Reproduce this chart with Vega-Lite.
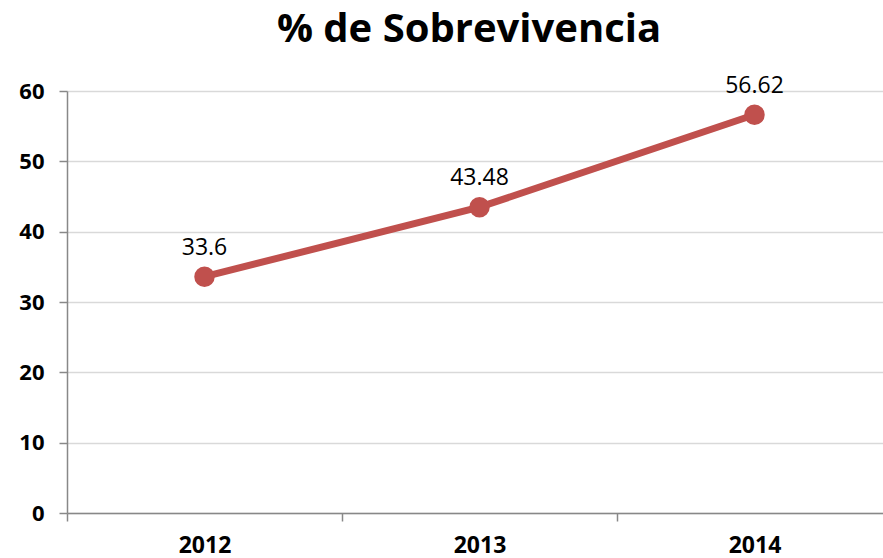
{
  "$schema": "https://vega.github.io/schema/vega-lite/v6.json",
  "width": 816,
  "height": 422,
  "autosize": {"type": "none"},
  "padding": {"left": 67, "top": 91, "right": 0, "bottom": 45},
  "background": "white",
  "title": {
    "text": "% de Sobrevivencia",
    "font": "Open Sans",
    "fontSize": 40,
    "fontWeight": "bold",
    "color": "#000000",
    "anchor": "middle",
    "dx": -6,
    "offset": 25
  },
  "config": {
    "view": {"stroke": null},
    "axis": {"labelFont": "Open Sans", "labelFontWeight": "bold", "labelFontSize": 22, "labelColor": "#000000"}
  },
  "data": {
    "values": [
      {"year": "2012", "value": 33.6},
      {"year": "2013", "value": 43.48},
      {"year": "2014", "value": 56.62}
    ]
  },
  "encoding": {
    "x": {
      "field": "year",
      "type": "nominal",
      "scale": {"range": [0, 825], "paddingInner": 0, "paddingOuter": 0},
      "axis": {
        "title": null,
        "labelAngle": 0,
        "tickBand": "extent",
        "labelFontSize": 23,
        "labelPadding": 13,
        "tickSize": 8,
        "tickColor": "#888888",
        "domainColor": "#888888",
        "domainWidth": 1.5,
        "tickWidth": 1.5,
        "grid": false
      }
    },
    "y": {
      "field": "value",
      "type": "quantitative",
      "scale": {"domain": [0, 60], "nice": false},
      "axis": {
        "title": null,
        "values": [0, 10, 20, 30, 40, 50, 60],
        "tickSize": 8,
        "tickColor": "#888888",
        "tickWidth": 1.5,
        "domainColor": "#888888",
        "domainWidth": 1.5,
        "labelPadding": 15,
        "gridColor": "#d9d9d9",
        "gridWidth": 1.5
      }
    }
  },
  "layer": [
    {"mark": {"type": "line", "color": "#C0504D", "strokeWidth": 7}},
    {"mark": {"type": "point", "filled": true, "color": "#C0504D", "opacity": 1, "size": 420}},
    {
      "mark": {"type": "text", "font": "Open Sans", "fontSize": 23, "color": "#000000", "dy": -29, "baseline": "middle"},
      "encoding": {"text": {"field": "value", "type": "quantitative"}}
    }
  ]
}
